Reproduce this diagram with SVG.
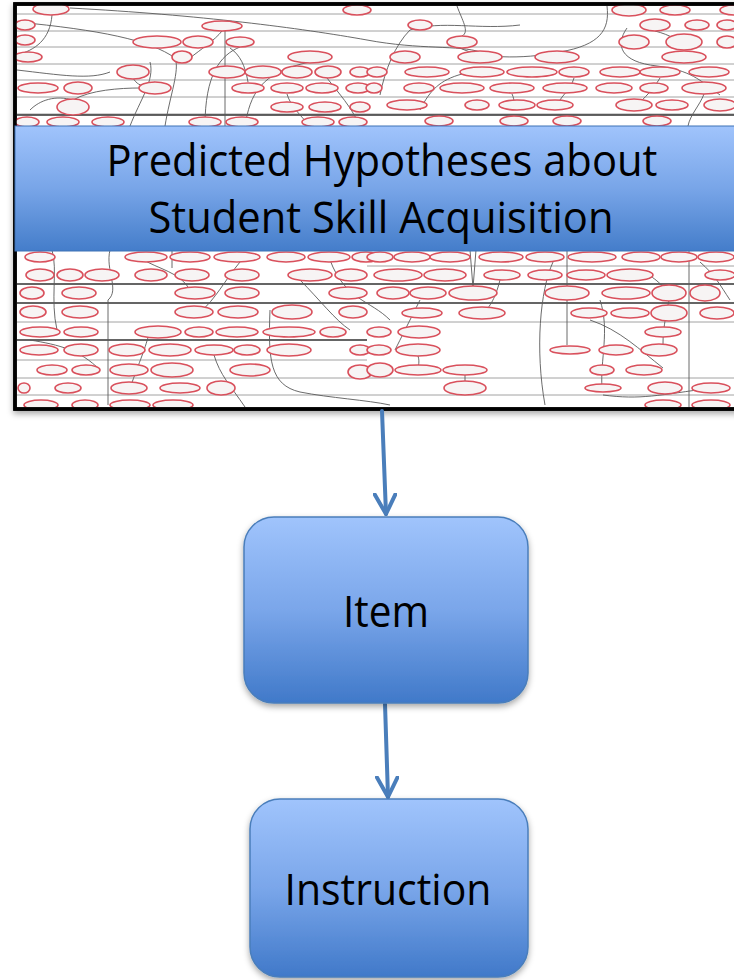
<svg xmlns="http://www.w3.org/2000/svg" width="734" height="980" viewBox="0 0 734 980">
<defs>
<style>
.n{fill:#f7f4f4;stroke:#d9505c;stroke-width:1.6}
.e{fill:none;stroke:#5a5a5a;stroke-width:0.9}
.h{fill:none;stroke:#8a8a8a;stroke-width:0.8}
.hd{fill:none;stroke:#333;stroke-width:1.3}
.lbl{font-family:"Open Sans","Liberation Sans",sans-serif;fill:#000;text-anchor:middle}
.box{fill:url(#bg);stroke:#4a7ebb;stroke-width:1.5}
.conn{stroke:#4a7ebb;stroke-width:4;fill:none;stroke-linecap:round}
</style>
<linearGradient id="bg" x1="0" y1="0" x2="0" y2="1">
<stop offset="0" stop-color="#a0c4fc"/>
<stop offset="0.5" stop-color="#7aa6ea"/>
<stop offset="1" stop-color="#4079c9"/>
</linearGradient>
<linearGradient id="bb" x1="0" y1="0" x2="0" y2="1">
<stop offset="0" stop-color="#a0c4fc"/>
<stop offset="0.5" stop-color="#78a5e8"/>
<stop offset="1" stop-color="#447dca"/>
</linearGradient>
<filter id="sh" x="-10%" y="-10%" width="130%" height="130%">
<feDropShadow dx="0" dy="3" stdDeviation="3" flood-color="#000" flood-opacity="0.35"/>
</filter>
<marker id="ah" viewBox="0 0 24 24" markerWidth="24" markerHeight="24" markerUnits="userSpaceOnUse" refX="21" refY="12" orient="auto">
<path d="M1,1.5 L21,12 L1,22.5" fill="none" stroke="#4a7ebb" stroke-width="4" stroke-linecap="round" stroke-linejoin="round"/>
</marker>
<clipPath id="fc"><rect x="16" y="5" width="718" height="402"/></clipPath>
</defs>
<rect width="734" height="980" fill="#fff"/>

<g id="graph-image">
<rect x="15" y="4" width="730" height="405" fill="#fff" stroke="#000" stroke-width="3.5" filter="url(#sh)"/>
<g clip-path="url(#fc)">
<path class="h" d="M17,14 H734 M17,31 H734 M17,47 H734 M17,64 H734 M17,80 H734 M17,97 H734 M17,114 H734"/>
<path class="hd" d="M17,115 H734 M17,284 H734 M17,303 H734 M17,340 H367"/>
<path class="h" d="M17,322 H734 M17,360 H367 M17,378 H734 M17,395 H734 M367,266 H734"/>
<path class="e" d="M52,15 C50,40 35,50 17,55"/>
<path class="e" d="M70,8 C200,15 300,28 367,40 C420,50 460,45 480,52"/>
<path class="e" d="M17,22 C100,30 150,40 175,58 C180,70 170,95 165,126"/>
<path class="e" d="M150,62 C155,80 140,100 130,126"/>
<path class="e" d="M225,31 V126"/>
<path class="e" d="M222,31 C215,40 200,50 190,58"/>
<path class="e" d="M240,47 C220,55 205,75 205,126"/>
<path class="e" d="M310,62 C260,72 250,95 245,126"/>
<path class="e" d="M133,78 C140,90 150,85 155,82"/>
<path class="e" d="M457,6 C462,20 470,32 462,36"/>
<path class="e" d="M380,95 C385,70 395,45 410,30 C440,20 480,30 520,25"/>
<path class="e" d="M607,6 C610,30 600,45 560,52 C520,60 480,58 460,48"/>
<path class="e" d="M627,28 C615,45 620,62 657,66 C690,70 700,80 720,95"/>
<path class="e" d="M17,70 C60,75 90,80 110,72"/>
<path class="e" d="M327,78 C340,95 350,105 360,126"/>
<path class="e" d="M287,94 C290,105 300,115 310,126"/>
<path class="e" d="M420,110 C430,90 440,80 462,74"/>
<path class="e" d="M555,110 C560,95 570,92 574,78"/>
<path class="e" d="M634,110 C640,100 650,95 660,78"/>
<path class="e" d="M704,94 C700,105 690,115 688,126"/>
<path class="e" d="M684,50 C680,40 670,35 655,31"/>
<path class="e" d="M73,100 C90,90 120,88 140,88"/>
<path class="e" d="M512,94 C515,100 514,108 517,110"/>
<path class="e" d="M230,48 C240,55 245,65 248,82"/>
<path class="e" d="M30,110 C40,100 55,95 73,100"/>
<path class="e" d="M52,250 C58,270 50,300 57,330"/>
<path class="e" d="M110,250 C105,270 120,290 108,300 V405"/>
<path class="e" d="M172,250 V268"/>
<path class="e" d="M470,250 L473,288 L476,250"/>
<path class="e" d="M567,250 V345"/>
<path class="e" d="M689,250 V407"/>
<path class="e" d="M270,310 C268,360 270,385 300,392 C330,398 367,400 390,405"/>
<path class="e" d="M553,262 C540,290 535,350 545,405"/>
<path class="e" d="M600,300 C610,330 600,360 602,388"/>
<path class="e" d="M590,320 C620,330 640,350 663,368"/>
<path class="e" d="M140,258 C160,270 180,272 190,290"/>
<path class="e" d="M240,262 C225,280 215,300 200,312"/>
<path class="e" d="M300,280 C320,300 335,320 350,330"/>
<path class="e" d="M30,340 C60,345 80,350 100,370"/>
<path class="e" d="M150,330 C145,350 140,360 130,388"/>
<path class="e" d="M214,355 C220,375 230,385 245,407"/>
<path class="e" d="M420,300 C410,320 400,340 395,350"/>
<path class="e" d="M500,280 C495,300 488,310 482,313"/>
<path class="e" d="M418,356 C420,362 418,366 418,370"/>
<path class="e" d="M465,375 V388"/>
<path class="e" d="M640,270 C660,280 665,290 669,293"/>
<path class="e" d="M669,300 C665,320 663,330 663,344"/>
<path class="e" d="M603,395 C640,400 660,395 711,388"/>
<path class="e" d="M700,262 C715,275 720,285 730,300"/>
<path class="e" d="M330,260 C345,300 370,300 390,320"/>
<ellipse class="n" cx="51" cy="9" rx="18" ry="6"/>
<ellipse class="n" cx="25" cy="25" rx="10" ry="5"/>
<ellipse class="n" cx="25" cy="40" rx="10" ry="5"/>
<ellipse class="n" cx="222" cy="26" rx="20" ry="5"/>
<ellipse class="n" cx="157" cy="42" rx="24" ry="6"/>
<ellipse class="n" cx="198" cy="42" rx="15" ry="6"/>
<ellipse class="n" cx="240" cy="42" rx="14" ry="5"/>
<ellipse class="n" cx="182" cy="57" rx="10" ry="6"/>
<ellipse class="n" cx="28" cy="57" rx="14" ry="5"/>
<ellipse class="n" cx="133" cy="72" rx="16" ry="7"/>
<ellipse class="n" cx="310" cy="57" rx="22" ry="6"/>
<ellipse class="n" cx="227" cy="72" rx="18" ry="6"/>
<ellipse class="n" cx="263" cy="72" rx="18" ry="6"/>
<ellipse class="n" cx="297" cy="72" rx="15" ry="6"/>
<ellipse class="n" cx="328" cy="72" rx="13" ry="6"/>
<ellipse class="n" cx="360" cy="72" rx="10" ry="5"/>
<ellipse class="n" cx="38" cy="88" rx="20" ry="5"/>
<ellipse class="n" cx="78" cy="88" rx="14" ry="6"/>
<ellipse class="n" cx="155" cy="88" rx="16" ry="6"/>
<ellipse class="n" cx="248" cy="88" rx="16" ry="5"/>
<ellipse class="n" cx="287" cy="88" rx="16" ry="5"/>
<ellipse class="n" cx="322" cy="88" rx="16" ry="5"/>
<ellipse class="n" cx="358" cy="88" rx="12" ry="5"/>
<ellipse class="n" cx="73" cy="107" rx="16" ry="8"/>
<ellipse class="n" cx="287" cy="107" rx="16" ry="5"/>
<ellipse class="n" cx="325" cy="107" rx="16" ry="5"/>
<ellipse class="n" cx="360" cy="107" rx="10" ry="5"/>
<ellipse class="n" cx="27" cy="122" rx="12" ry="5"/>
<ellipse class="n" cx="63" cy="122" rx="16" ry="5"/>
<ellipse class="n" cx="108" cy="122" rx="16" ry="5"/>
<ellipse class="n" cx="205" cy="122" rx="16" ry="5"/>
<ellipse class="n" cx="242" cy="122" rx="16" ry="5"/>
<ellipse class="n" cx="318" cy="122" rx="16" ry="5"/>
<ellipse class="n" cx="353" cy="122" rx="14" ry="5"/>
<ellipse class="n" cx="357" cy="10" rx="14" ry="5"/>
<ellipse class="n" cx="629" cy="10" rx="17" ry="6"/>
<ellipse class="n" cx="675" cy="10" rx="15" ry="5"/>
<ellipse class="n" cx="734" cy="10" rx="14" ry="5"/>
<ellipse class="n" cx="420" cy="25" rx="12" ry="5"/>
<ellipse class="n" cx="655" cy="25" rx="15" ry="6"/>
<ellipse class="n" cx="697" cy="25" rx="12" ry="5"/>
<ellipse class="n" cx="727" cy="25" rx="10" ry="5"/>
<ellipse class="n" cx="462" cy="42" rx="15" ry="6"/>
<ellipse class="n" cx="634" cy="42" rx="15" ry="7"/>
<ellipse class="n" cx="684" cy="42" rx="18" ry="8"/>
<ellipse class="n" cx="727" cy="42" rx="10" ry="6"/>
<ellipse class="n" cx="405" cy="57" rx="15" ry="6"/>
<ellipse class="n" cx="480" cy="57" rx="22" ry="6"/>
<ellipse class="n" cx="557" cy="57" rx="22" ry="6"/>
<ellipse class="n" cx="684" cy="57" rx="22" ry="6"/>
<ellipse class="n" cx="377" cy="72" rx="10" ry="5"/>
<ellipse class="n" cx="427" cy="72" rx="22" ry="5"/>
<ellipse class="n" cx="482" cy="72" rx="22" ry="5"/>
<ellipse class="n" cx="532" cy="72" rx="25" ry="5"/>
<ellipse class="n" cx="574" cy="72" rx="15" ry="5"/>
<ellipse class="n" cx="620" cy="72" rx="20" ry="5"/>
<ellipse class="n" cx="660" cy="72" rx="20" ry="5"/>
<ellipse class="n" cx="709" cy="72" rx="20" ry="5"/>
<ellipse class="n" cx="374" cy="88" rx="8" ry="5"/>
<ellipse class="n" cx="419" cy="88" rx="15" ry="5"/>
<ellipse class="n" cx="462" cy="88" rx="22" ry="5"/>
<ellipse class="n" cx="512" cy="88" rx="22" ry="5"/>
<ellipse class="n" cx="565" cy="88" rx="22" ry="5"/>
<ellipse class="n" cx="614" cy="88" rx="18" ry="5"/>
<ellipse class="n" cx="654" cy="88" rx="14" ry="5"/>
<ellipse class="n" cx="704" cy="88" rx="22" ry="6"/>
<ellipse class="n" cx="407" cy="105" rx="20" ry="5"/>
<ellipse class="n" cx="477" cy="105" rx="12" ry="5"/>
<ellipse class="n" cx="517" cy="105" rx="18" ry="5"/>
<ellipse class="n" cx="555" cy="105" rx="18" ry="5"/>
<ellipse class="n" cx="634" cy="105" rx="18" ry="6"/>
<ellipse class="n" cx="672" cy="105" rx="16" ry="5"/>
<ellipse class="n" cx="720" cy="105" rx="16" ry="6"/>
<ellipse class="n" cx="439" cy="121" rx="14" ry="5"/>
<ellipse class="n" cx="514" cy="121" rx="14" ry="5"/>
<ellipse class="n" cx="567" cy="121" rx="14" ry="5"/>
<ellipse class="n" cx="657" cy="121" rx="14" ry="5"/>
<ellipse class="n" cx="40" cy="257" rx="15" ry="5"/>
<ellipse class="n" cx="146" cy="257" rx="21" ry="5"/>
<ellipse class="n" cx="190" cy="257" rx="20" ry="5"/>
<ellipse class="n" cx="237" cy="257" rx="23" ry="5"/>
<ellipse class="n" cx="286" cy="257" rx="19" ry="5"/>
<ellipse class="n" cx="329" cy="257" rx="21" ry="5"/>
<ellipse class="n" cx="366" cy="257" rx="14" ry="5"/>
<ellipse class="n" cx="40" cy="275" rx="14" ry="6"/>
<ellipse class="n" cx="70" cy="275" rx="13" ry="6"/>
<ellipse class="n" cx="102" cy="275" rx="17" ry="6"/>
<ellipse class="n" cx="151" cy="275" rx="16" ry="6"/>
<ellipse class="n" cx="192" cy="275" rx="17" ry="6"/>
<ellipse class="n" cx="242" cy="275" rx="17" ry="6"/>
<ellipse class="n" cx="310" cy="275" rx="22" ry="6"/>
<ellipse class="n" cx="351" cy="275" rx="16" ry="6"/>
<ellipse class="n" cx="32" cy="293" rx="12" ry="6"/>
<ellipse class="n" cx="79" cy="293" rx="17" ry="6"/>
<ellipse class="n" cx="195" cy="293" rx="20" ry="6"/>
<ellipse class="n" cx="242" cy="293" rx="17" ry="6"/>
<ellipse class="n" cx="348" cy="293" rx="19" ry="6"/>
<ellipse class="n" cx="33" cy="312" rx="13" ry="6"/>
<ellipse class="n" cx="80" cy="312" rx="18" ry="6"/>
<ellipse class="n" cx="194" cy="312" rx="19" ry="6"/>
<ellipse class="n" cx="238" cy="312" rx="20" ry="6"/>
<ellipse class="n" cx="292" cy="312" rx="20" ry="7"/>
<ellipse class="n" cx="353" cy="312" rx="14" ry="6"/>
<ellipse class="n" cx="40" cy="332" rx="20" ry="5"/>
<ellipse class="n" cx="81" cy="332" rx="17" ry="5"/>
<ellipse class="n" cx="158" cy="332" rx="23" ry="6"/>
<ellipse class="n" cx="199" cy="332" rx="14" ry="5"/>
<ellipse class="n" cx="237" cy="332" rx="21" ry="5"/>
<ellipse class="n" cx="289" cy="332" rx="26" ry="5"/>
<ellipse class="n" cx="333" cy="332" rx="13" ry="5"/>
<ellipse class="n" cx="39" cy="350" rx="19" ry="5"/>
<ellipse class="n" cx="81" cy="350" rx="17" ry="6"/>
<ellipse class="n" cx="127" cy="350" rx="18" ry="6"/>
<ellipse class="n" cx="170" cy="350" rx="21" ry="6"/>
<ellipse class="n" cx="214" cy="350" rx="19" ry="5"/>
<ellipse class="n" cx="247" cy="350" rx="13" ry="5"/>
<ellipse class="n" cx="289" cy="350" rx="22" ry="6"/>
<ellipse class="n" cx="360" cy="350" rx="10" ry="5"/>
<ellipse class="n" cx="52" cy="370" rx="15" ry="5"/>
<ellipse class="n" cx="86" cy="370" rx="14" ry="5"/>
<ellipse class="n" cx="129" cy="370" rx="19" ry="6"/>
<ellipse class="n" cx="172" cy="370" rx="21" ry="7"/>
<ellipse class="n" cx="250" cy="370" rx="20" ry="6"/>
<ellipse class="n" cx="360" cy="372" rx="12" ry="7"/>
<ellipse class="n" cx="24" cy="388" rx="6" ry="5"/>
<ellipse class="n" cx="68" cy="388" rx="13" ry="5"/>
<ellipse class="n" cx="129" cy="388" rx="18" ry="6"/>
<ellipse class="n" cx="180" cy="388" rx="20" ry="5"/>
<ellipse class="n" cx="221" cy="388" rx="14" ry="7"/>
<ellipse class="n" cx="41" cy="405" rx="17" ry="5"/>
<ellipse class="n" cx="85" cy="405" rx="13" ry="5"/>
<ellipse class="n" cx="130" cy="405" rx="20" ry="5"/>
<ellipse class="n" cx="173" cy="405" rx="20" ry="5"/>
<ellipse class="n" cx="380" cy="257" rx="13" ry="5"/>
<ellipse class="n" cx="412" cy="257" rx="18" ry="5"/>
<ellipse class="n" cx="450" cy="257" rx="20" ry="5"/>
<ellipse class="n" cx="501" cy="257" rx="22" ry="5"/>
<ellipse class="n" cx="545" cy="257" rx="19" ry="5"/>
<ellipse class="n" cx="592" cy="257" rx="24" ry="5"/>
<ellipse class="n" cx="641" cy="257" rx="19" ry="5"/>
<ellipse class="n" cx="679" cy="257" rx="18" ry="5"/>
<ellipse class="n" cx="716" cy="257" rx="18" ry="5"/>
<ellipse class="n" cx="398" cy="275" rx="24" ry="6"/>
<ellipse class="n" cx="445" cy="275" rx="21" ry="6"/>
<ellipse class="n" cx="502" cy="275" rx="18" ry="5"/>
<ellipse class="n" cx="545" cy="275" rx="17" ry="5"/>
<ellipse class="n" cx="586" cy="275" rx="19" ry="5"/>
<ellipse class="n" cx="630" cy="275" rx="23" ry="6"/>
<ellipse class="n" cx="720" cy="275" rx="15" ry="5"/>
<ellipse class="n" cx="393" cy="293" rx="16" ry="6"/>
<ellipse class="n" cx="428" cy="293" rx="18" ry="6"/>
<ellipse class="n" cx="473" cy="293" rx="24" ry="7"/>
<ellipse class="n" cx="567" cy="293" rx="22" ry="7"/>
<ellipse class="n" cx="626" cy="293" rx="24" ry="6"/>
<ellipse class="n" cx="669" cy="293" rx="17" ry="8"/>
<ellipse class="n" cx="705" cy="293" rx="15" ry="8"/>
<ellipse class="n" cx="422" cy="313" rx="20" ry="5"/>
<ellipse class="n" cx="482" cy="313" rx="23" ry="6"/>
<ellipse class="n" cx="589" cy="313" rx="18" ry="5"/>
<ellipse class="n" cx="630" cy="313" rx="19" ry="5"/>
<ellipse class="n" cx="669" cy="313" rx="18" ry="8"/>
<ellipse class="n" cx="717" cy="313" rx="17" ry="6"/>
<ellipse class="n" cx="379" cy="332" rx="12" ry="5"/>
<ellipse class="n" cx="419" cy="332" rx="21" ry="6"/>
<ellipse class="n" cx="663" cy="332" rx="18" ry="5"/>
<ellipse class="n" cx="379" cy="350" rx="12" ry="5"/>
<ellipse class="n" cx="418" cy="350" rx="22" ry="6"/>
<ellipse class="n" cx="570" cy="350" rx="20" ry="4"/>
<ellipse class="n" cx="616" cy="350" rx="17" ry="5"/>
<ellipse class="n" cx="659" cy="350" rx="18" ry="6"/>
<ellipse class="n" cx="380" cy="370" rx="13" ry="7"/>
<ellipse class="n" cx="418" cy="370" rx="23" ry="5"/>
<ellipse class="n" cx="465" cy="370" rx="22" ry="5"/>
<ellipse class="n" cx="602" cy="370" rx="12" ry="5"/>
<ellipse class="n" cx="644" cy="370" rx="18" ry="5"/>
<ellipse class="n" cx="465" cy="388" rx="21" ry="7"/>
<ellipse class="n" cx="603" cy="388" rx="18" ry="4"/>
<ellipse class="n" cx="665" cy="388" rx="17" ry="6"/>
<ellipse class="n" cx="711" cy="388" rx="19" ry="5"/>
<ellipse class="n" cx="663" cy="405" rx="18" ry="5"/>
<ellipse class="n" cx="711" cy="405" rx="19" ry="5"/>
</g>
<rect x="15" y="4" width="730" height="405" fill="none" stroke="#000" stroke-width="3.5"/>
</g>

<g id="hypotheses">
<rect x="15" y="126" width="730" height="125" fill="url(#bb)" stroke="#3f72b5" stroke-width="1"/>
<text class="lbl" x="382" y="176" font-size="43" textLength="551" lengthAdjust="spacingAndGlyphs">Predicted Hypotheses about</text>
<text class="lbl" x="381" y="233" font-size="43" textLength="465" lengthAdjust="spacingAndGlyphs">Student Skill Acquisition</text>
</g>

<g id="connectors">
<line class="conn" x1="382" y1="411" x2="386" y2="514" marker-end="url(#ah)"/>
<line class="conn" x1="385" y1="704" x2="388" y2="797" marker-end="url(#ah)"/>
</g>

<g id="item">
<rect class="box" x="244" y="517" width="284" height="186" rx="30" filter="url(#sh)"/>
<text class="lbl" x="386" y="627" font-size="43" textLength="86" lengthAdjust="spacingAndGlyphs">Item</text>
</g>

<g id="instruction">
<rect class="box" x="250" y="799" width="278" height="178" rx="30" filter="url(#sh)"/>
<text class="lbl" x="388" y="905" font-size="43" textLength="207" lengthAdjust="spacingAndGlyphs">Instruction</text>
</g>
</svg>
